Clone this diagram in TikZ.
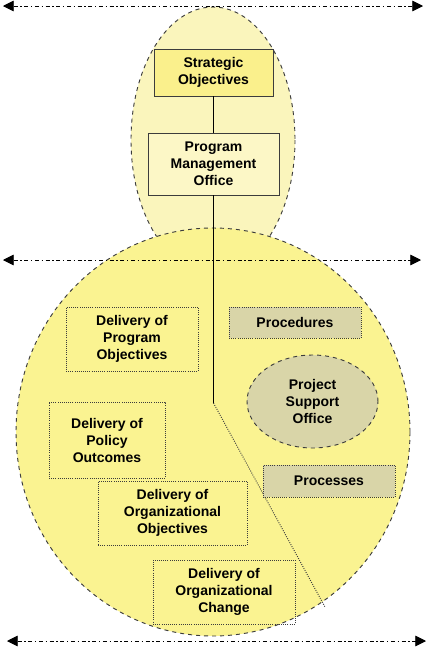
\documentclass[tikz,border=0pt]{standalone}
\usepackage{fontspec}
\setmainfont{Liberation Sans}
\usetikzlibrary{arrows.meta,shapes.geometric}
\definecolor{bigfill}{RGB}{250,243,145}
\definecolor{topfill}{RGB}{250,245,188}
\definecolor{sofill}{RGB}{250,240,140}
\definecolor{pmofill}{RGB}{252,247,198}
\definecolor{khaki}{RGB}{217,213,168}
\definecolor{edge}{RGB}{60,60,60}
\tikzset{
  lbl/.style={font=\bfseries\fontsize{10.5}{12.75}\selectfont, align=center, inner sep=1pt},
  solidbox/.style={lbl, draw=edge, line width=0.6pt, rectangle},
  dotbox/.style={lbl, draw=edge, densely dotted, line width=0.6pt, rectangle},
  khakibox/.style={dotbox, fill=khaki},
  guide/.style={draw=black, line width=0.5pt, dash pattern=on 3pt off 2pt on 1pt off 2pt, {Triangle[length=8pt,width=8pt]}-{Triangle[length=8pt,width=8pt]}},
  blob/.style={draw=edge, dashed, line width=0.7pt},
  link/.style={draw=black, line width=0.6pt},
}
\begin{document}
\begin{tikzpicture}[x=0.75pt,y=-0.75pt]
\useasboundingbox (0,0) rectangle (428,647);
% outer shapes
\path[blob, fill=topfill] (213,140) ellipse [x radius=82, y radius=133];
\path[blob, fill=bigfill] (213,432) ellipse [x radius=197, y radius=204];
% guides
\coordinate (t1) at (3,6); \coordinate (t2) at (423,6);
\coordinate (m1) at (3,260); \coordinate (m2) at (421,260);
\coordinate (b1) at (7,641); \coordinate (b2) at (426,641);
\draw[guide] (t1) -- (t2);
\draw[guide] (m1) -- (m2);
\draw[guide] (b1) -- (b2);
% nodes
\node[solidbox, fill=sofill, minimum width=89.25pt, minimum height=35.25pt] (so) at (213.5,72.5) {Strategic\\Objectives};
\node[solidbox, fill=pmofill, minimum width=98.25pt, minimum height=46.5pt] (pmo) at (213.5,164) {Program\\Management\\Office};
\coordinate (bend) at (213.5,403);
\coordinate (tail) at (325,607);
\draw[link] (so) -- (pmo);
\draw[link] (pmo) -- (bend);
\draw[draw=edge, densely dotted, line width=0.7pt] (bend) -- (tail);
\node[dotbox, minimum width=99pt, minimum height=48pt] (dpo) at (132,339) {Delivery of\\Program\\Objectives};
\node[khakibox, minimum width=99pt, minimum height=23.25pt] (proc) at (295,322.5) {Procedures};
\node[blob, fill=khaki, ellipse, lbl, minimum width=98.25pt, minimum height=69.75pt] (pso) at (312.5,401.5) {Project\\Support\\Office};
\node[dotbox, minimum width=87pt, minimum height=57pt] (dpol) at (107,440) {Delivery of\\Policy\\Outcomes};
\node[khakibox, minimum width=99pt, minimum height=24pt] (processes) at (329,481) {Processes};
\node[dotbox, minimum width=111.75pt, minimum height=48pt] (doo) at (172.5,513) {Delivery of\\Organizational\\Objectives};
\node[dotbox, minimum width=106.5pt, minimum height=48pt] (doc) at (224,592) {Delivery of\\Organizational\\Change};
\end{tikzpicture}
\end{document}
